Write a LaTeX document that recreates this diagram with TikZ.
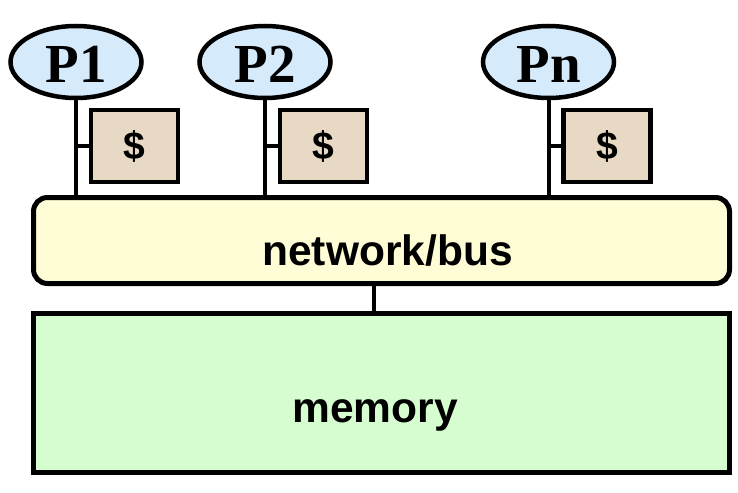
\documentclass[tikz,border=0pt]{standalone}
\usepackage{fontspec}
\setmainfont{Liberation Serif}
\newfontfamily\arialfont{Liberation Sans}
\usetikzlibrary{shapes.geometric}
\definecolor{pfill}{RGB}{213,235,252}
\definecolor{cfill}{RGB}{232,217,197}
\definecolor{bfill}{RGB}{255,253,213}
\definecolor{mfill}{RGB}{214,253,208}
\begin{document}
\begin{tikzpicture}[x=1pt,y=-1pt]
\useasboundingbox (0,0) rectangle (738,492);
\tikzset{
  proc/.style={ellipse,draw,line width=4.5pt,fill=pfill,minimum width=131pt,minimum height=72pt,inner sep=0pt},
  plabel/.style={anchor=base,inner sep=0pt,font=\bfseries\fontsize{55}{55}\selectfont},
  cache/.style={rectangle,draw,line width=4.5pt,fill=cfill,minimum width=87pt,minimum height=72pt,inner sep=0pt,font=\arialfont\bfseries\fontsize{39}{39}\selectfont},
  wire/.style={line width=4pt},
  bigtext/.style={anchor=base,inner sep=0pt,font=\arialfont\bfseries\fontsize{42.5}{42.5}\selectfont},
}
% bus and memory
\node[draw,line width=5pt,fill=bfill,rounded corners=14pt,minimum width=696pt,minimum height=86pt,inner sep=0pt] (bus) at (381.5,240.5) {};
\node[draw,line width=5pt,fill=mfill,minimum width=696pt,minimum height=159pt,inner sep=0pt] (mem) at (381.5,393) {};
\node[bigtext] (bustext) at (387.5,265) {network/bus};
\node[bigtext] (memtext) at (375,422) {memory};
\coordinate (mx) at (374,300);
\draw[wire] (mx |- bus.south) -- (mx |- mem.north);
% processors
\foreach \n/\x/\t in {1/76/P1,2/265/P2,3/548.5/Pn}{
  \node[proc] (p\n) at (\x,62) {};
  \node[plabel] (pl\n) at (\x,83) {\t};
  \node[cache] (c\n) at (\x+58.5,146) {\$};
  \draw[wire] (p\n.south) -- (p\n.south |- bus.north);
  \draw[wire] (p\n.south |- c\n.west) -- (c\n.west);
}
\end{tikzpicture}
\end{document}
